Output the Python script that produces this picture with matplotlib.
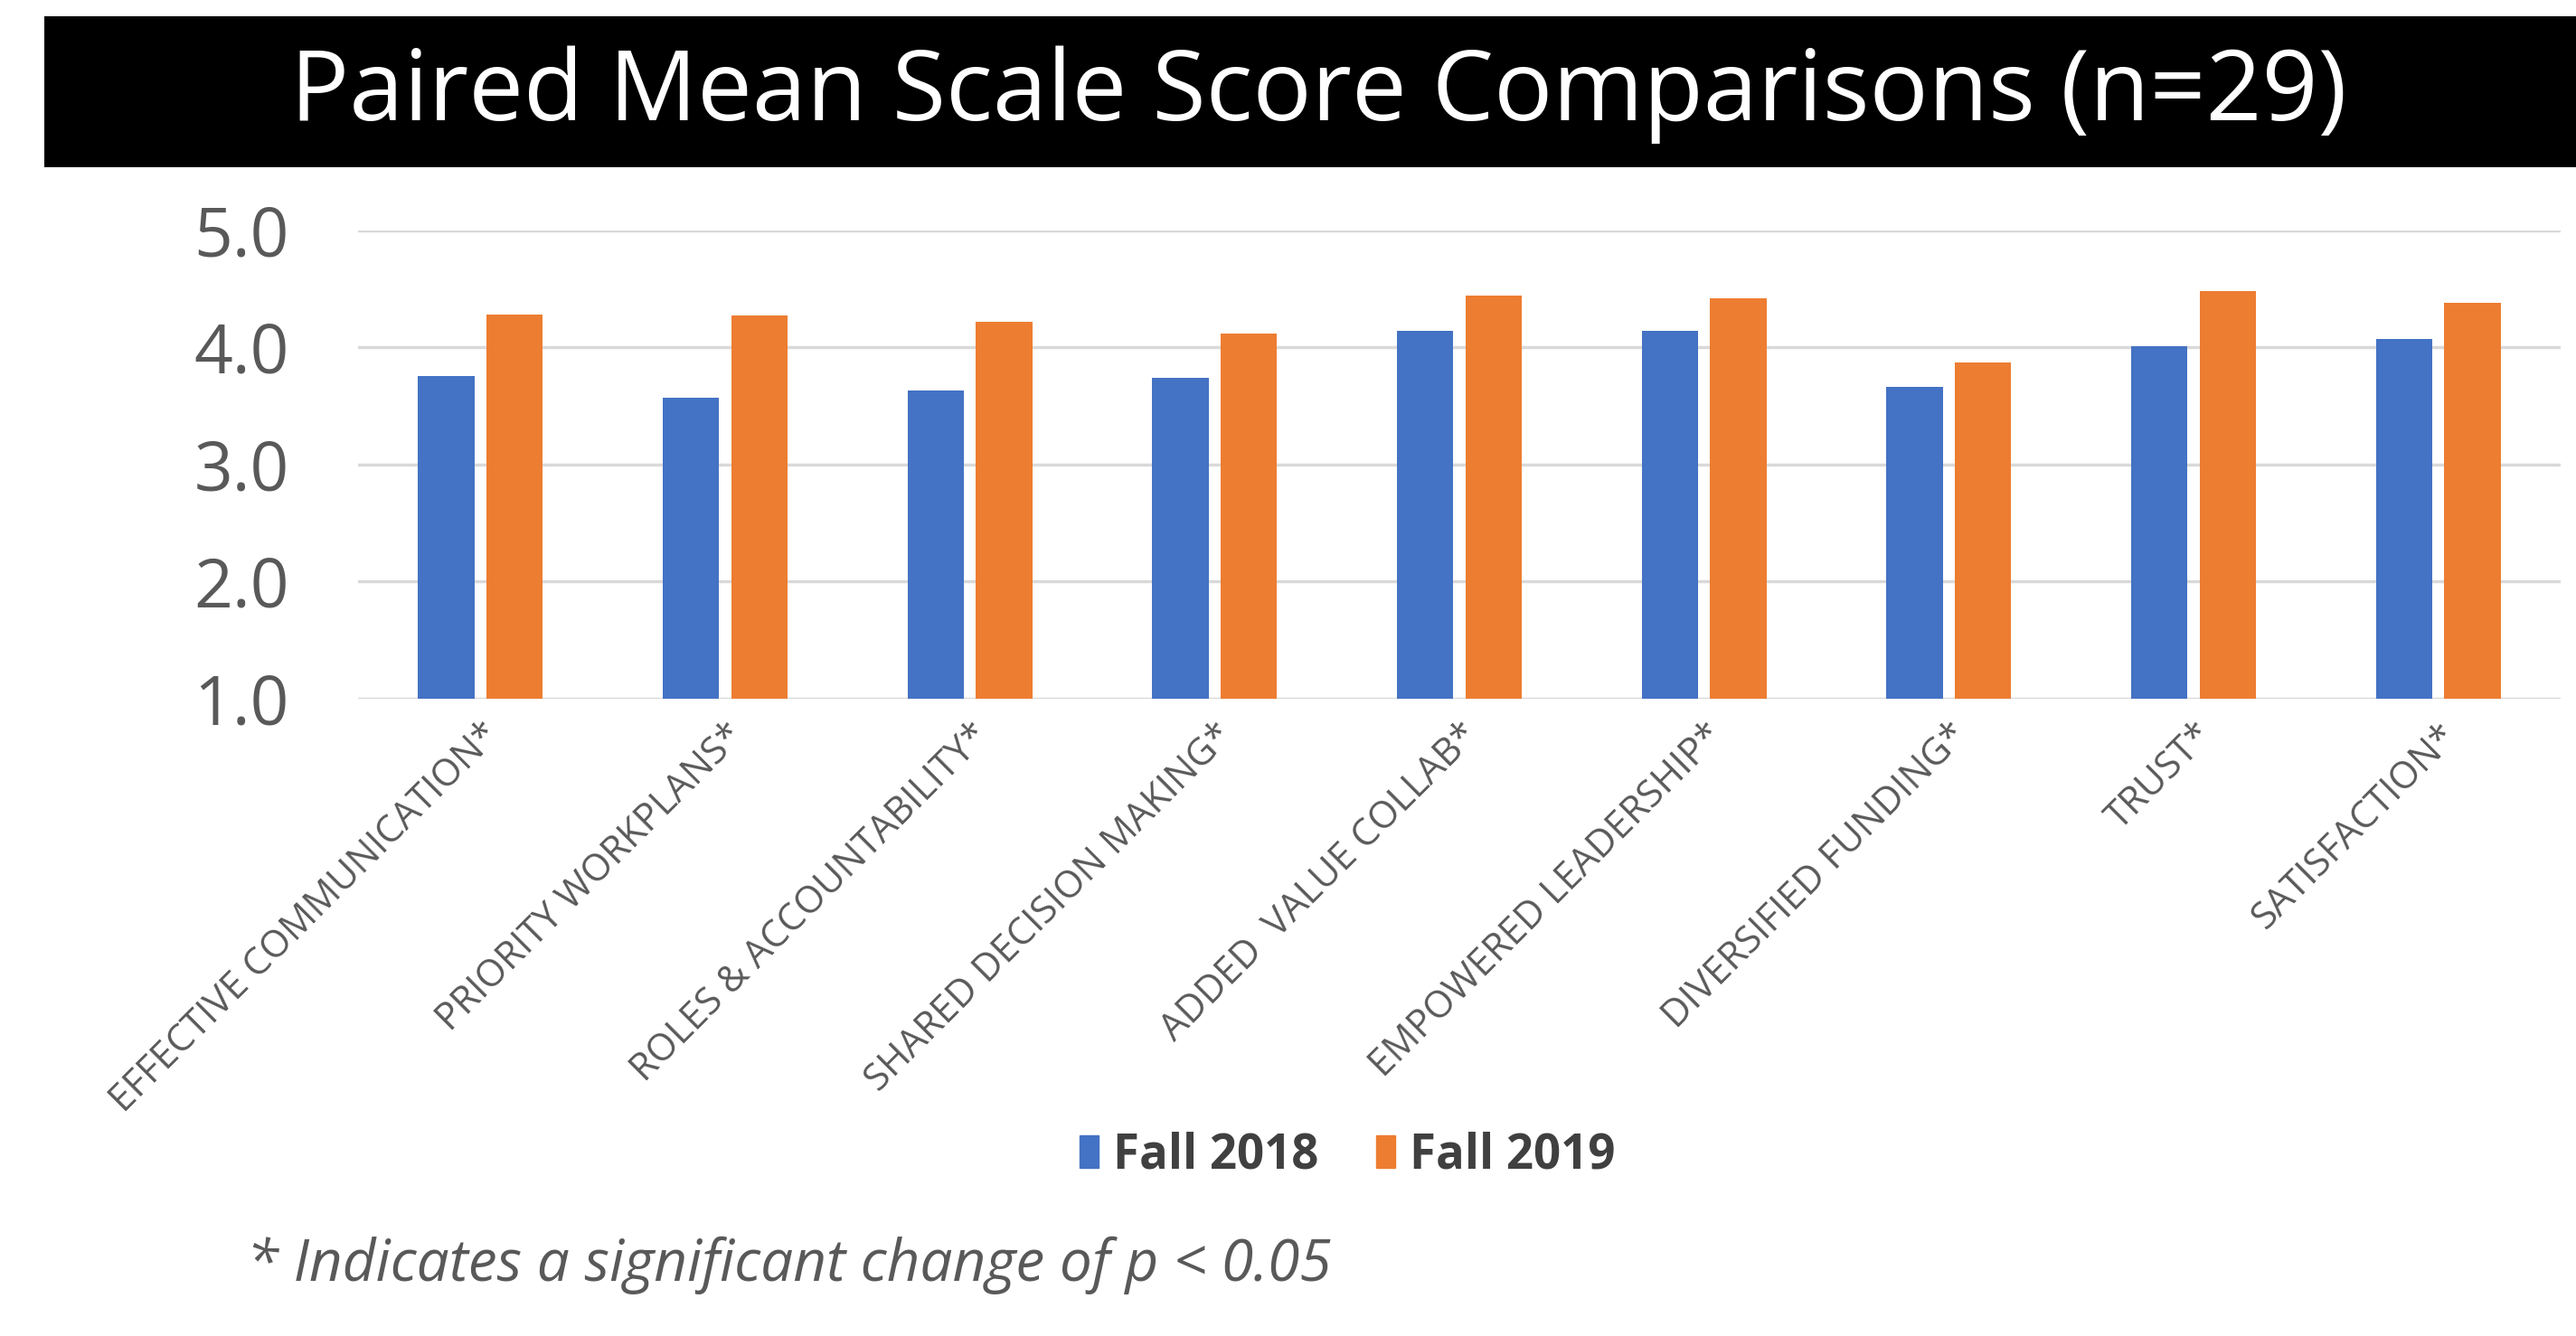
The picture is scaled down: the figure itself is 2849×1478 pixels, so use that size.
import matplotlib
matplotlib.use("Agg")
import matplotlib.pyplot as plt
from matplotlib.patches import Rectangle, Patch
import numpy as np

plt.rcParams['font.family'] = ['Open Sans', 'DejaVu Sans']

# data
categories = ['EFFECTIVE COMMUNICATION*', 'PRIORITY WORKPLANS*', 'ROLES & ACCOUNTABILITY*',
              'SHARED DECISION MAKING*', 'ADDED  VALUE COLLAB*', 'EMPOWERED LEADERSHIP*',
              'DIVERSIFIED FUNDING*', 'TRUST*', 'SATISFACTION*']
fall_2018 = [3.76, 3.57, 3.63, 3.74, 4.14, 4.14, 3.66, 4.01, 4.07]
fall_2019 = [4.28, 4.27, 4.22, 4.12, 4.44, 4.42, 3.87, 4.48, 4.38]
y_ticks = [1.0, 2.0, 3.0, 4.0, 5.0]

blue = '#4472C4'
orange = '#ED7D31'
grey = '#595959'

fig = plt.figure(figsize=(28.49, 14.78), dpi=100)

# black title banner
fig.patches.append(Rectangle((0.0172, 0.875), 0.99, 0.113, transform=fig.transFigure,
                             facecolor='black', edgecolor='none', zorder=0))
fig.text(0.512, 0.929, 'Paired Mean Scale Score Comparisons (n=29)', color='white',
         fontsize=78, ha='center', va='center')

ax = fig.add_axes([0.139, 0.477, 0.855, 0.3505])
x = np.arange(len(categories))
w = 0.23
ax.bar(x - 0.14, np.array(fall_2018) - 1, w, bottom=1, color=blue, zorder=3)
ax.bar(x + 0.14, np.array(fall_2019) - 1, w, bottom=1, color=orange, zorder=3)

ax.set_xlim(-0.5, len(categories) - 0.5)
ax.set_ylim(1, 5)
ax.set_yticks(y_ticks)
ax.set_yticklabels([f'{v:.1f}' for v in y_ticks], fontsize=54, color=grey)
ax.yaxis.grid(True, color='#d9d9d9', linewidth=2.5)
ax.set_axisbelow(True)
ax.tick_params(axis='y', length=0, pad=55)
ax.tick_params(axis='x', length=0, pad=14)
ax.set_xticks(x)
ax.set_xticklabels(categories, rotation=45, ha='right', rotation_mode='anchor',
                   fontsize=30, color=grey)
for s in ax.spines.values():
    s.set_visible(False)

handles = [Patch(color=blue, label='Fall 2018'), Patch(color=orange, label='Fall 2019')]
fig.legend(handles=handles, loc='center', bbox_to_anchor=(0.523, 0.135), ncol=2,
           frameon=False, prop={'size': 38, 'weight': 'bold'}, labelcolor='#404040',
           handlelength=0.4, handleheight=0.7, handletextpad=0.3, columnspacing=1.2)

fig.text(0.0957, 0.053, '* Indicates a significant change of p < 0.05', fontsize=46,
         style='italic', color=grey, ha='left', va='center')

fig.savefig('out.png', dpi=100, facecolor='white')
